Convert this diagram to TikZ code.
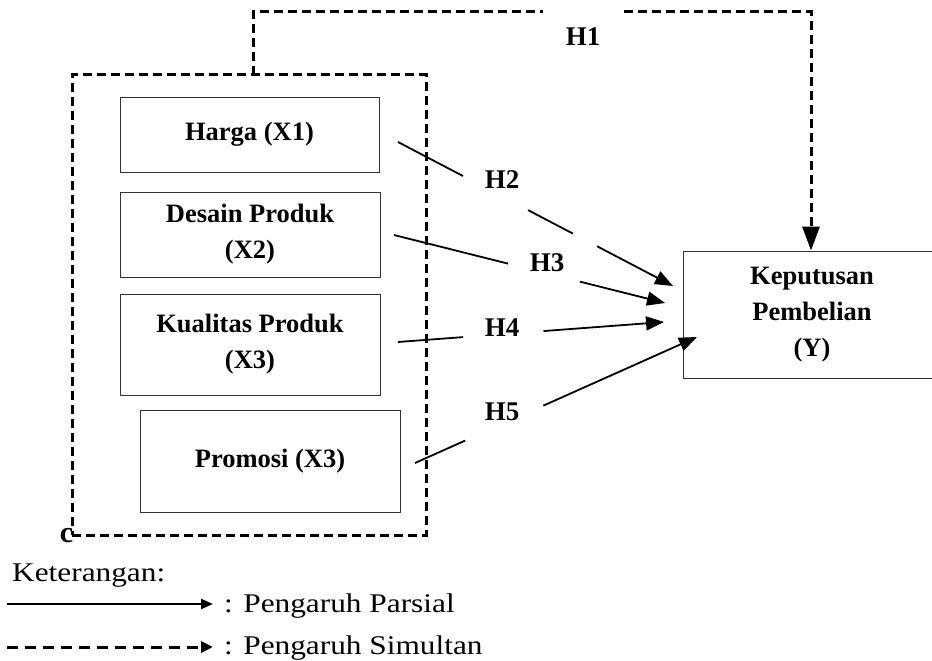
\documentclass[tikz,border=0pt]{standalone}
\usepackage{fontspec}
\setmainfont{Liberation Serif}
\usetikzlibrary{arrows.meta,calc}
\begin{document}
\begin{tikzpicture}[x=1pt,y=-1pt,
  varbox/.style={draw=black!80, line width=0.9pt, align=center, inner sep=0pt,
    font=\fontsize{26.5}{36}\selectfont\bfseries},
  hlabel/.style={font=\fontsize{27}{30}\selectfont\bfseries, inner sep=0pt},
  dashline/.style={line width=3pt, dash pattern=on 9pt off 5pt},
  partial/.style={line width=1.8pt, -{Triangle[length=18pt,width=14pt]}},
  plainseg/.style={line width=1.8pt},
  legtext/.style={font=\fontsize{27}{30}\selectfont, inner sep=0pt, anchor=base west}
]
\useasboundingbox (0,0) rectangle (932,661);

% variable boxes
\node[varbox, minimum width=259pt, minimum height=75pt] (harga) at (249.5,134.5) {Harga (X1)};
\node[varbox, minimum width=260pt, minimum height=85pt] (desain) at (250,234.5) {Desain Produk\\(X2)};
\node[varbox, minimum width=260pt, minimum height=101pt] (kualitas) at (250,344.5) {Kualitas Produk\\(X3)};
\node[varbox, minimum width=260pt, minimum height=102pt] (promosi) at (270,461) {Promosi (X3)};
\node[varbox, minimum width=258pt, minimum height=127pt] (kep) at (812,314.5) {Keputusan\\Pembelian\\(Y)};

% small c at the group corner
\node[font=\fontsize{30}{30}\selectfont\bfseries, inner sep=0pt] (cmark) at (66.5,536) {c};

% group dashed box
\node[draw, dashline, minimum width=354pt, minimum height=460pt, inner sep=0pt] (grp) at (249,305) {};

% simultaneous path H1
\coordinate (o1) at (253,75);
\coordinate (o2) at (253,12);
\coordinate (o3) at (811,12);
\draw[dashline, -{Triangle[length=24pt,width=17pt]}] (o1) -- (o2) -- (o3) -- (o3 |- kep.north);
\node[hlabel, fill=white, minimum width=80pt, minimum height=58pt] (h1) at (583,37) {H1};

% partial paths
\coordinate (h2a) at (398,142); \coordinate (h2b) at (673,286);
\coordinate (h3a) at (394,235); \coordinate (h3b) at (665,303);
\coordinate (h4a) at (398,342); \coordinate (h4b) at (664,322);
\coordinate (h5a) at (415,463); \coordinate (h5b) at (697,337);

\draw[plainseg] (h2a) -- ($(h2a)!0.236!(h2b)$);
\draw[plainseg] ($(h2a)!0.473!(h2b)$) -- ($(h2a)!0.636!(h2b)$);
\draw[partial] ($(h2a)!0.724!(h2b)$) -- (h2b);

\draw[plainseg] (h3a) -- ($(h3a)!0.421!(h3b)$);
\draw[partial] ($(h3a)!0.686!(h3b)$) -- (h3b);

\draw[plainseg] (h4a) -- ($(h4a)!0.245!(h4b)$);
\draw[partial] ($(h4a)!0.547!(h4b)$) -- (h4b);

\draw[plainseg] (h5a) -- ($(h5a)!0.178!(h5b)$);
\draw[partial] ($(h5a)!0.455!(h5b)$) -- (h5b);

\node[hlabel] (h2) at (502,180) {H2};
\node[hlabel] (h3) at (547,263) {H3};
\node[hlabel] (h4) at (502,328) {H4};
\node[hlabel] (h5) at (502,412) {H5};

% legend
\node[legtext] (ket) at (12,581) {\scalebox{1.16}[1]{Keterangan:}};
\coordinate (l1s) at (7,604); \coordinate (l1e) at (213,604);
\coordinate (l2s) at (7,647); \coordinate (l2e) at (213,647);
\draw[line width=2pt, -{Triangle[length=12pt,width=10pt]}] (l1s) -- (l1e);
\draw[line width=3pt, dash pattern=on 11pt off 7pt, -{Triangle[length=12pt,width=11pt]}] (l2s) -- (l2e);
\node[legtext] (lp) at (224,612) {\scalebox{1.16}[1]{: Pengaruh Parsial}};
\node[legtext] (ls) at (224,654) {\scalebox{1.16}[1]{: Pengaruh Simultan}};
\end{tikzpicture}
\end{document}
